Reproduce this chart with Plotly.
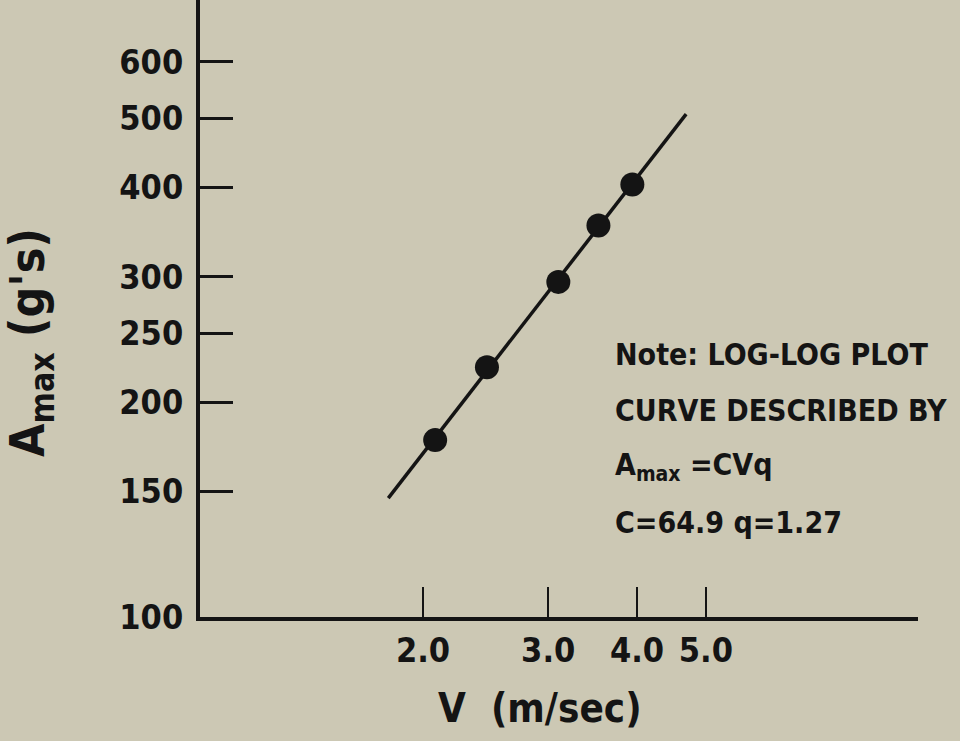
import plotly.graph_objects as go
import math

# Data
v_points = [2.08, 2.46, 3.10, 3.53, 3.94]
a_points = [177, 224, 295, 354, 404]
fit_v = [1.787, 4.69]
fit_a = [146.8, 507]

y_tick_vals = [100, 150, 200, 250, 300, 400, 500, 600]
y_tick_text = ["100", "150", "200", "250", "300", "400", "500", "600"]
x_tick_vals = [2.0, 3.0, 4.0, 5.0]
x_tick_text = ["2.0", "3.0", "4.0", "5.0"]

note_lines = ["Note: LOG-LOG PLOT", "CURVE DESCRIBED BY", "A<sub>max</sub> =CVq", "C=64.9 q=1.27"]

FONT = "Liberation Sans Narrow, DejaVu Sans Condensed, Arial Narrow, sans-serif"
INK = "#141414"
BG = "#ccc8b4"

W, H = 960, 741
L, R, T, B = 200, 42, 0, 124
pw, ph = W - L - R, H - T - B

def px(x):
    return (x - L) / pw

def py(y):
    return (H - B - y) / ph

fig = go.Figure()
fig.add_trace(go.Scatter(x=fit_v, y=fit_a, mode="lines",
                         line=dict(color=INK, width=3.5), showlegend=False, hoverinfo="skip"))
fig.add_trace(go.Scatter(x=v_points, y=a_points, mode="markers",
                         marker=dict(color=INK, size=24, line=dict(width=0)), showlegend=False))

fig.update_xaxes(type="log", range=[math.log10(0.971), math.log10(9.94)],
                 showline=True, linewidth=4, linecolor=INK, showgrid=False, zeroline=False,
                 ticks="inside", ticklen=30, tickwidth=2, tickcolor=INK,
                 tickvals=x_tick_vals, ticktext=x_tick_text,
                 tickfont=dict(family=FONT, size=34, color=INK, weight="bold"),
                 ticklabelstandoff=0)
fig.update_yaxes(type="log", range=[2, 2.865],
                 showline=True, linewidth=4, linecolor=INK, showgrid=False, zeroline=False,
                 ticks="inside", ticklen=33, tickwidth=2.5, tickcolor=INK,
                 tickvals=y_tick_vals, ticktext=y_tick_text,
                 tickfont=dict(family=FONT, size=34, color=INK, weight="bold"),
                 ticklabelstandoff=6)

annotations = []
note_y = [354, 410, 466, 522]
for txt, yy in zip(note_lines, note_y):
    annotations.append(dict(text="<b>" + txt + "</b>", x=px(613), y=py(yy), xref="paper", yref="paper",
                            xanchor="left", yanchor="middle", showarrow=False,
                            font=dict(family=FONT, size=30, color=INK)))
annotations.append(dict(text="<b>V  (m/sec)</b>", x=px(540), y=py(708), xref="paper", yref="paper",
                        xanchor="center", yanchor="middle", showarrow=False,
                        font=dict(family=FONT, size=40, color=INK)))
annotations.append(dict(text="<b>A<sub>max</sub> (g's)</b>", x=px(30), y=py(343), xref="paper", yref="paper",
                        xanchor="center", yanchor="middle", showarrow=False, textangle=-90,
                        font=dict(family=FONT, size=48, color=INK)))

fig.update_layout(width=W, height=H, margin=dict(l=L, r=R, t=T, b=B),
                  paper_bgcolor=BG, plot_bgcolor=BG, annotations=annotations, showlegend=False)

fig.write_html("out.html")
